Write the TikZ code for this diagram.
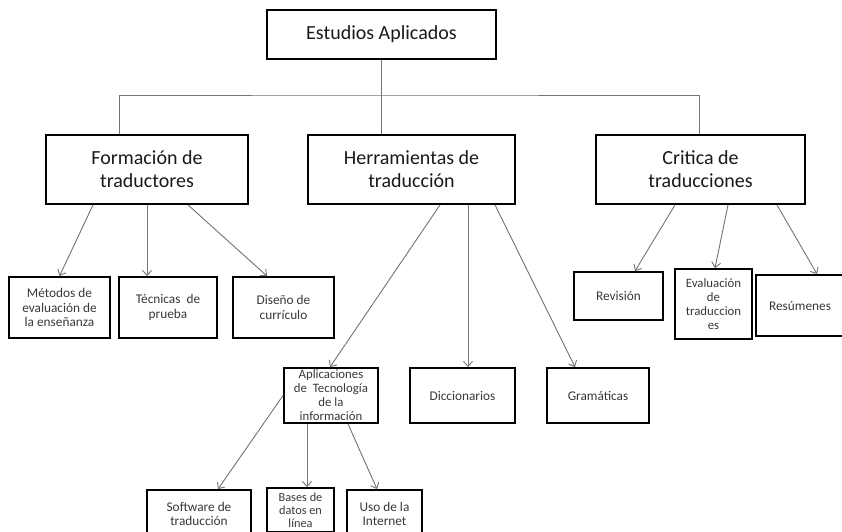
\documentclass[tikz,border=0pt]{standalone}
\usepackage{fontspec}
\setmainfont{Carlito}
\usetikzlibrary{arrows.meta}

\begin{document}
\begin{tikzpicture}[x=1pt,y=-1pt]
		\tikzstyle{box}=[draw=black,line width=1.9pt,align=center,inner sep=1pt]
		\tikzstyle{main box}=[box,minimum height=69pt,text=black!90,font=\fontsize{20}{23}\selectfont]
		\tikzstyle{small box}=[box,text=black!78,font=\fontsize{13.3}{14.5}\selectfont]
		\tikzstyle{line}=[draw=black!55,line width=0.9pt]
		\tikzstyle{arrow}=[line,-{Straight Barb[length=5pt,width=9pt]}]

		\useasboundingbox (0,0) rectangle (842,531);
		\clip (0,0) rectangle (842,531);

			% Top node and the three areas
		\node[main box,minimum width=229pt,minimum height=49pt] (top) at (381.5,34.5) {Estudios Aplicados};
		\node[main box,minimum width=202pt] (form) at (147,169.5) {Formación de\\traductores};
		\node[main box,minimum width=207pt] (herr) at (411.5,169.5) {Herramientas de\\traducción};
		\node[main box,minimum width=209pt] (crit) at (700.5,169.5) {Critica de\\traducciones};

			% Second level
		\node[small box,minimum width=101pt,minimum height=61pt] (met) at (59.5,307.5) {Métodos de\\evaluación de\\la enseñanza};
		\node[small box,minimum width=98pt,minimum height=61pt] (tec) at (168,307.5) {Técnicas~~de\\prueba};
		\node[small box,minimum width=101pt,minimum height=61pt] (dis) at (283.5,307.5) {Diseño de\\currículo};
		\node[small box,minimum width=89pt,minimum height=48pt] (rev) at (618.5,296) {Revisión};
		\node[small box,minimum width=77pt,minimum height=70pt,inner sep=0pt,font=\fontsize{12.8}{14}\selectfont] (eval) at (713.5,304) {Evaluación\\de\\traduccion\\es};
		\node[small box,minimum width=88pt,minimum height=61pt] (res) at (800,305.5) {Resúmenes};
		\node[small box,minimum width=94pt,minimum height=55pt,inner sep=0pt,font=\fontsize{12.8}{14}\selectfont] (apl) at (331,395.5) {Aplicaciones\\de~ Tecnología\\de la\\información};
		\node[small box,minimum width=105pt,minimum height=55pt] (dic) at (462.5,395.5) {Diccionarios};
		\node[small box,minimum width=102pt,minimum height=55pt] (gram) at (598,395.5) {Gramáticas};

			% Third level (cut by the lower edge)
		\node[small box,minimum width=104pt,minimum height=48pt] (soft) at (199,514) {Software de\\traducción};
		\node[small box,minimum width=67pt,minimum height=44pt,inner sep=0pt,font=\fontsize{12.3}{13.2}\selectfont] (bas) at (300.5,510) {Bases de\\datos en\\línea};
		\node[small box,minimum width=75pt,minimum height=48pt] (uso) at (384.5,514) {Uso de la\\Internet};

			% Tree lines from the top node
		\coordinate (bar) at (381,95);
		\draw[line] (top.south) -- (top.south |- herr.north);
		\draw[line] ([xshift=-28pt]form.north) |- (bar) -| ([xshift=-1.5pt]crit.north);

			% Arrows to the second level
		\foreach \dest/\from/\to in {met/-54/0, tec/0/-21, dis/41/-16.5}
		\draw[arrow] ([xshift=\from pt]form.south) -- ([xshift=\to pt]\dest.north);
		\foreach \dest/\from/\to in {apl/28.5/-1, dic/56.5/5.5, gram/83.5/-23}
		\draw[arrow] ([xshift=\from pt]herr.south) -- ([xshift=\to pt]\dest.north);
		\foreach \dest/\from/\to in {rev/-25.5/16.5, eval/27.5/1.5, res/76.5/17}
		\draw[arrow] ([xshift=\from pt]crit.south) -- ([xshift=\to pt]\dest.north);

			% Arrows to the third level
		\draw[arrow] (apl.west) -- ([xshift=19pt]soft.north);
		\draw[arrow] ([xshift=-24pt]apl.south) -- ([xshift=6.5pt]bas.north);
		\draw[arrow] ([xshift=17pt]apl.south) -- ([xshift=-7.5pt]uso.north);
		\end{tikzpicture}
\end{document}
